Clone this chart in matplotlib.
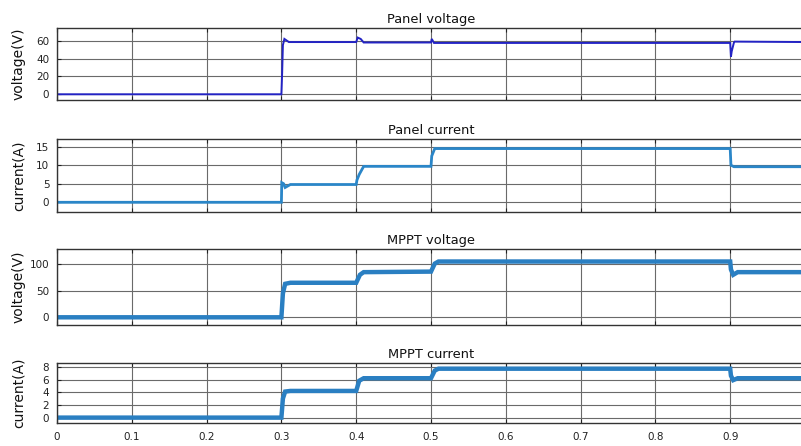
import matplotlib
matplotlib.use("Agg")
import matplotlib.pyplot as plt

plt.rcParams['font.family'] = ['DejaVu Sans']

# ---- data ----
t_pv = [0.0, 0.300, 0.301, 0.302, 0.304, 0.310, 0.400, 0.402, 0.406, 0.410, 0.500, 0.501, 0.504, 0.900, 0.901, 0.902, 0.905, 0.906, 1.0]
pv_voltage = [0.0, 0.0, 24.0, 55.0, 62.0, 58.5, 58.5, 63.5, 62.0, 58.0, 58.0, 62.0, 57.5, 57.5, 42.0, 48.0, 58.0, 59.0, 58.5]

t_pc = [0.0, 0.300, 0.3005, 0.303, 0.305, 0.312, 0.400, 0.401, 0.404, 0.410, 0.500, 0.501, 0.505, 0.900, 0.901, 0.905, 1.0]
pv_current = [0.0, 0.0, 5.3, 5.0, 4.0, 4.8, 4.8, 6.0, 7.5, 9.7, 9.7, 12.5, 14.5, 14.5, 10.0, 9.6, 9.6]

t_mv = [0.0, 0.300, 0.302, 0.305, 0.312, 0.400, 0.405, 0.410, 0.500, 0.505, 0.510, 0.900, 0.901, 0.904, 0.910, 1.0]
mppt_voltage = [0.0, 0.0, 45.0, 63.0, 65.0, 65.0, 80.0, 85.0, 86.0, 101.0, 105.0, 105.0, 90.0, 80.0, 85.0, 85.0]

t_mc = [0.0, 0.300, 0.302, 0.305, 0.312, 0.400, 0.404, 0.410, 0.500, 0.505, 0.510, 0.900, 0.901, 0.904, 0.910, 1.0]
mppt_current = [0.0, 0.0, 3.0, 4.1, 4.2, 4.2, 5.8, 6.2, 6.2, 7.4, 7.7, 7.7, 6.6, 5.9, 6.2, 6.2]

titles = ["Panel voltage", "Panel current", "MPPT voltage", "MPPT current"]
ylabels = ["voltage(V)", "current(A)", "voltage(V)", "current(A)"]
yticks = [[0, 20, 40, 60], [0, 5, 10, 15], [0, 50, 100], [0, 2, 4, 6, 8]]
xticks = [0, 0.1, 0.2, 0.3, 0.4, 0.5, 0.6, 0.7, 0.8, 0.9, 1.0]
xticklabels = ["0", "0.1", "0.2", "0.3", "0.4", "0.5", "0.6", "0.7", "0.8", "0.9", "1"]

series = [(t_pv, pv_voltage), (t_pc, pv_current), (t_mv, mppt_voltage), (t_mc, mppt_current)]
colors = ["#2323c4", "#2a86c8", "#2a7fc2", "#2a7fc2"]
widths = [1.4, 2.0, 3.2, 3.2]
ylims = [(-6.4, 73.9), (-2.7, 17.0), (-14.5, 128.0), (-0.8, 8.55)]

# axes boxes in pixels (top, bottom)
W, H = 801, 446
boxes = [(28.3, 100.0), (139.3, 212.3), (249.3, 325.0), (363.3, 422.7)]
left_px, right_px = 57.0, 805.0

fig = plt.figure(figsize=(W / 100, H / 100), dpi=100)
fig.patch.set_facecolor("white")

for i, ((top, bot), (tx, ty)) in enumerate(zip(boxes, series)):
    ax = fig.add_axes([left_px / W, 1 - bot / H, (right_px - left_px) / W, (bot - top) / H])
    ax.plot(tx, ty, color=colors[i], lw=widths[i], solid_joinstyle='miter')
    ax.set_xlim(0, 1)
    ax.set_ylim(*ylims[i])
    ax.set_yticks(yticks[i])
    ax.set_xticks(xticks)
    if i == 3:
        ax.set_xticklabels(xticklabels)
    else:
        ax.set_xticklabels([])
    ax.grid(True, color="#6a6a6a", lw=0.8)
    ax.set_axisbelow(True)
    ax.tick_params(direction="in", length=3, width=0.8, labelsize=7.5, colors="#222222",
                   top=True, right=True)
    ax.tick_params(axis="y", pad=5.5)
    ax.tick_params(axis="x", pad=6.5)
    for s in ax.spines.values():
        s.set_color("#333333")
        s.set_linewidth(1.0)
    ax.set_title(titles[i], fontsize=9.4, pad=3.5, color="#111111")
    ax.set_ylabel(ylabels[i], fontsize=10, color="#111111")
    ax.yaxis.set_label_coords(-31 / (right_px - left_px), 0.5)

fig.savefig("out.png", dpi=100)
